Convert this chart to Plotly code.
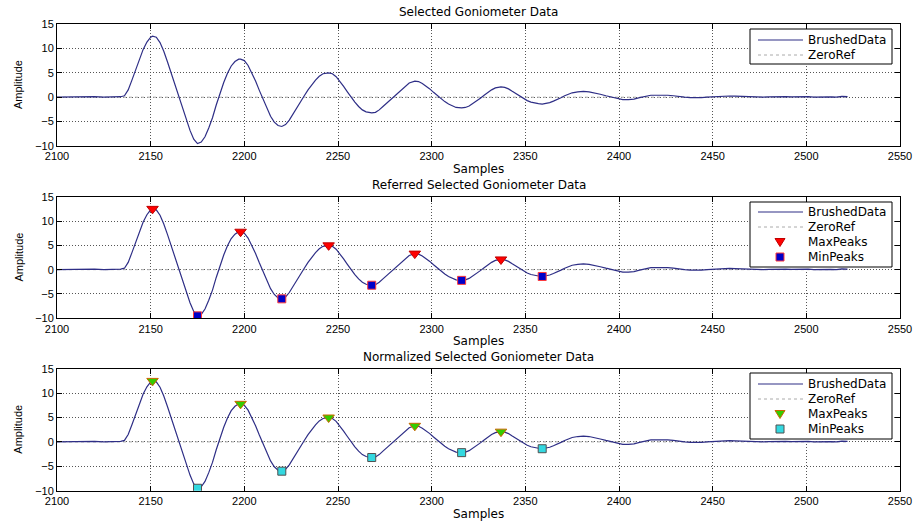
import plotly.graph_objects as go

# ---------------- data ----------------
SAMPLES = [2100, 2105, 2110, 2115, 2120, 2125, 2130, 2134, 2136,
           2138, 2140, 2142, 2144, 2146, 2148, 2150, 2151, 2153, 2155, 2157, 2159,
           2161, 2163, 2165, 2167, 2169, 2171, 2173, 2175, 2177, 2179, 2181, 2183,
           2185, 2187, 2189, 2191, 2193, 2195, 2197, 2198, 2200, 2202, 2204, 2206,
           2208, 2210, 2212, 2214, 2216, 2218, 2220, 2222, 2224, 2226, 2228, 2230,
           2232, 2234, 2236, 2238, 2240, 2242, 2245, 2247, 2249, 2251, 2253, 2255,
           2257, 2259, 2261, 2263, 2265, 2268, 2270, 2272, 2274, 2276, 2278, 2280,
           2282, 2284, 2286, 2288, 2291, 2293, 2295, 2297, 2299, 2301, 2303, 2305,
           2307, 2309, 2311, 2313, 2316, 2318, 2320, 2322, 2324, 2326, 2328, 2330,
           2332, 2334, 2337, 2339, 2341, 2343, 2345, 2347, 2349, 2351, 2353, 2355,
           2357, 2359, 2361, 2363, 2365, 2367, 2369, 2371, 2373, 2375, 2378, 2381,
           2384, 2387, 2390, 2393, 2396, 2399, 2402, 2405, 2408, 2411, 2414, 2417,
           2420, 2423, 2426, 2429, 2432, 2435, 2438, 2441, 2444, 2447, 2450, 2453,
           2456, 2459, 2462, 2465, 2468, 2471, 2474, 2477, 2480, 2483, 2486, 2489,
           2492, 2495, 2498, 2501, 2504, 2507, 2510, 2513, 2516, 2519, 2522]
AMPLITUDE = [0.0, 0.05, 0.1, 0.0, 0.1, 0.0, 0.1, 0.1, 0.3,
             1.5, 3.5, 5.5, 7.8, 9.8, 11.3, 12.3, 12.5, 12.3, 11.2, 9.4, 7.2,
             4.9, 2.6, 0.4, -2.0, -4.4, -6.8, -8.6, -9.5, -9.2, -8.1, -6.3, -4.2,
             -1.6, 0.8, 3.0, 4.9, 6.4, 7.3, 7.8, 7.8, 7.5, 6.5, 5.0, 3.3,
             1.4, -0.4, -2.3, -3.9, -5.1, -5.8, -6.0, -5.6, -4.7, -3.4, -2.0, -0.8,
             0.3, 1.5, 2.6, 3.5, 4.3, 4.8, 5.0, 4.8, 4.2, 3.3, 2.2, 1.1,
             0.0, -1.0, -1.9, -2.6, -3.0, -3.2, -3.1, -2.6, -1.9, -1.2, -0.5, 0.1,
             0.8, 1.6, 2.3, 2.9, 3.3, 3.2, 2.8, 2.3, 1.7, 1.0, 0.3, -0.3,
             -0.9, -1.4, -1.8, -2.1, -2.2, -2.1, -1.8, -1.3, -0.8, -0.2, 0.4, 1.0,
             1.5, 1.9, 2.1, 2.0, 1.7, 1.2, 0.7, 0.2, -0.3, -0.7, -1.0, -1.2,
             -1.3, -1.4, -1.3, -1.1, -0.8, -0.5, -0.1, 0.3, 0.6, 0.9, 1.1, 1.2,
             1.1, 0.9, 0.6, 0.3, 0.0, -0.3, -0.5, -0.5, -0.4, -0.1, 0.2, 0.4,
             0.4, 0.45, 0.4, 0.3, 0.1, 0.0, -0.1, -0.15, -0.1, 0.0, 0.1, 0.15,
             0.2, 0.25, 0.2, 0.15, 0.1, 0.0, 0.05, 0.0, 0.05, 0.1, 0.0, 0.1,
             0.05, 0.1, 0.05, 0.1, 0.0, 0.05, -0.05, 0.05, 0.0, 0.15, 0.1]
ZERO_REF = [0, 0]
MAX_X = [2151, 2198, 2245, 2291, 2337]
MAX_Y = [12.5, 7.8, 5.0, 3.3, 2.1]
MIN_X = [2175, 2220, 2268, 2316, 2359]
MIN_Y = [-9.5, -6.0, -3.2, -2.2, -1.4]
X_TICKS = [2100, 2150, 2200, 2250, 2300, 2350, 2400, 2450, 2500, 2550]
Y_TICKS = [-10, -5, 0, 5, 10, 15]
TITLES = ["Selected Goniometer Data",
          "Referred Selected Goniometer Data",
          "Normalized Selected Goniometer Data"]

# ---------------- layout helpers ----------------
W, H = 914, 522
def px(x):
    return x / W
def py(y):
    return 1 - y / H

LINE_COLOR = "#2e2e86"
GRID_COLOR = "#555555"
TXT = "DejaVu Sans"
TICKF = "Liberation Sans, Arial"

# panel pixel boxes: (top, bottom)
PANELS = [(24, 146), (196.7, 318.3), (368.7, 490.7)]
XL, XR = 57, 900

MARKER_STYLES = [
    None,
    (dict(color="#ff0000", line=dict(color="#c00000", width=1)),
     dict(color="#0000c8", line=dict(color="#ff3a3a", width=1))),
    (dict(color="#33cc00", line=dict(color="#cc6600", width=1)),
     dict(color="#33d8e0", line=dict(color="#505050", width=1))),
]

fig = go.Figure()
annotations = []
shapes = []

for i, (top, bot) in enumerate(PANELS):
    n = "" if i == 0 else str(i + 1)
    xa, ya = "x" + n, "y" + n
    fig.add_trace(go.Scatter(x=[SAMPLES[0], SAMPLES[-1]], y=ZERO_REF, mode="lines",
                             line=dict(color="#aaaaaa", width=1, dash="dot"),
                             name="ZeroRef", showlegend=False, xaxis=xa, yaxis=ya))
    fig.add_trace(go.Scatter(x=SAMPLES, y=AMPLITUDE, mode="lines",
                             line=dict(color=LINE_COLOR, width=1.2),
                             name="BrushedData", showlegend=False, xaxis=xa, yaxis=ya))
    if MARKER_STYLES[i] is not None:
        mx, mn = MARKER_STYLES[i]
        fig.add_trace(go.Scatter(x=MAX_X, y=MAX_Y, mode="markers",
                                 marker=dict(symbol="triangle-down", size=10, **mx),
                                 name="MaxPeaks", showlegend=False, xaxis=xa, yaxis=ya))
        fig.add_trace(go.Scatter(x=MIN_X, y=MIN_Y, mode="markers",
                                 marker=dict(symbol="square", size=8, **mn),
                                 name="MinPeaks", showlegend=False, xaxis=xa, yaxis=ya))

    axis_common = dict(showline=True, linecolor="black", linewidth=1, mirror="ticks",
                       ticks="inside", ticklen=5, tickcolor="black",
                       showgrid=True, gridcolor=GRID_COLOR, gridwidth=1, griddash="1px,2px",
                       zeroline=False, tickfont=dict(family=TICKF, size=11, color="black"),
                       automargin=False)
    fig.layout["xaxis" + n] = dict(domain=[px(XL), px(XR)], range=[2100, 2550],
                                   tickvals=X_TICKS, anchor=ya, **axis_common)
    fig.layout["yaxis" + n] = dict(domain=[py(bot), py(top)], range=[-10, 15],
                                   tickvals=Y_TICKS, anchor=xa, **axis_common)

    # title, x-label, y-label
    annotations.append(dict(text=TITLES[i], x=px((XL + XR) / 2), y=py(top - 12),
                            xref="paper", yref="paper", showarrow=False,
                            xanchor="center", yanchor="middle",
                            font=dict(family=TXT, size=12, color="black")))
    annotations.append(dict(text="Samples", x=px((XL + XR) / 2), y=py(bot + 23),
                            xref="paper", yref="paper", showarrow=False,
                            xanchor="center", yanchor="middle",
                            font=dict(family=TXT, size=12, color="black")))
    annotations.append(dict(text="Amplitude", x=px(18), y=py((top + bot) / 2),
                            xref="paper", yref="paper", showarrow=False, textangle=-90,
                            xanchor="center", yanchor="middle",
                            font=dict(family=TICKF, size=11, color="black")))

# ---------------- MATLAB-style legends ----------------
LEG = [
    (29, 64, [40, 55]),
    (202, 267, [212, 227, 242, 257]),
    (373, 439, [384, 399, 414, 429]),
]
LEG_NAMES = ["BrushedData", "ZeroRef", "MaxPeaks", "MinPeaks"]
for i, (bt, bb, rows) in enumerate(LEG):
    shapes.append(dict(type="rect", xref="paper", yref="paper",
                       x0=px(750), x1=px(892), y0=py(bb), y1=py(bt),
                       line=dict(color="black", width=1), fillcolor="white", layer="above"))
    # line samples
    shapes.append(dict(type="line", xref="paper", yref="paper",
                       x0=px(758), x1=px(803), y0=py(rows[0]), y1=py(rows[0]),
                       line=dict(color=LINE_COLOR, width=1.2), layer="above"))
    shapes.append(dict(type="line", xref="paper", yref="paper",
                       x0=px(758), x1=px(803), y0=py(rows[1]), y1=py(rows[1]),
                       line=dict(color="#aaaaaa", width=1, dash="dot"), layer="above"))
    if MARKER_STYLES[i] is not None:
        mx, mn = MARKER_STYLES[i]
        shapes.append(dict(type="path", xref="paper", yref="paper",
                           xsizemode="pixel", ysizemode="pixel",
                           xanchor=px(780), yanchor=py(rows[2]),
                           path="M-5,3.5 L5,3.5 L0,-4.5 Z",
                           fillcolor=mx["color"], line=dict(color=mx["line"]["color"], width=1),
                           layer="above"))
        shapes.append(dict(type="path", xref="paper", yref="paper",
                           xsizemode="pixel", ysizemode="pixel",
                           xanchor=px(780), yanchor=py(rows[3]),
                           path="M-4,-4 L4,-4 L4,4 L-4,4 Z",
                           fillcolor=mn["color"], line=dict(color=mn["line"]["color"], width=1),
                           layer="above"))
    for name, ry in zip(LEG_NAMES, rows):
        annotations.append(dict(text=name, x=px(806), y=py(ry), xref="paper", yref="paper",
                                showarrow=False, xanchor="left", yanchor="middle",
                                font=dict(family=TXT, size=12, color="black")))

fig.update_layout(width=W, height=H, autosize=False,
                  margin=dict(l=0, r=0, t=0, b=0),
                  paper_bgcolor="white", plot_bgcolor="white",
                  showlegend=False, annotations=annotations, shapes=shapes)

fig.write_html("out.html", config={"displayModeBar": False},
               post_script="document.body.style.margin='0';document.body.style.overflow='hidden';")
